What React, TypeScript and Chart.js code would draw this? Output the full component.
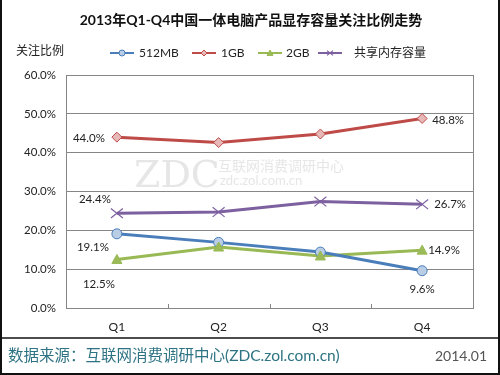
import React, { useEffect, useRef } from "react";
import { Chart, registerables } from "chart.js";

Chart.register(...registerables);

const categories = ["Q1", "Q2", "Q3", "Q4"];
const seriesNames = ["512MB", "1GB", "2GB", "共享内存容量"];
const values512 = [19.1, 16.9, 14.4, 9.6];
const values1G = [44.0, 42.6, 44.8, 48.8];
const values2G = [12.5, 15.7, 13.4, 14.9];
const valuesShared = [24.4, 24.7, 27.4, 26.7];
const yTicks = [0, 10, 20, 30, 40, 50, 60];

const titleText = "2013年Q1-Q4中国一体电脑产品显存容量关注比例走势";
const yAxisTitle = "关注比例";
const sourceText = "数据来源：互联网消费调研中心(ZDC.zol.com.cn)";
const dateText = "2014.01";

const FONT = "'Lato', 'Noto Sans CJK SC', sans-serif";

const lineColors = ["#4A7EBB", "#BE4B48", "#98B954", "#7D60A0"];
const markerFills = ["#B9CDE5", "#E6B9B8", "#9BBB59", "#7D60A0"];
const markerStyles = ["circle", "rectRot", "triangle", "cross"];
const markerRadii = [5, 5, 5, 6];

// label placement per series: [pointIndex, dx, dy, align]
const labelPlacements: [number, number, number, CanvasTextAlign][][] = [
  [[0, -8, 13, "right"], [3, 0, 19, "center"]],
  [[0, -12, 1, "right"], [3, 10, 2, "left"]],
  [[0, -2, 25, "right"], [3, 6, 0, "left"]],
  [[0, -6, -14, "right"], [3, 12, 0, "left"]],
];

function drawMarker(ctx: CanvasRenderingContext2D, i: number, x: number, y: number, r: number) {
  ctx.save();
  ctx.strokeStyle = lineColors[i];
  ctx.fillStyle = markerFills[i];
  ctx.lineWidth = 1;
  ctx.beginPath();
  const s = markerStyles[i];
  if (s === "circle") {
    ctx.arc(x, y, r, 0, Math.PI * 2);
    ctx.fill();
    ctx.stroke();
  } else if (s === "rectRot") {
    ctx.moveTo(x, y - r);
    ctx.lineTo(x + r, y);
    ctx.lineTo(x, y + r);
    ctx.lineTo(x - r, y);
    ctx.closePath();
    ctx.fill();
    ctx.stroke();
  } else if (s === "triangle") {
    ctx.moveTo(x, y - r);
    ctx.lineTo(x + r, y + r * 0.8);
    ctx.lineTo(x - r, y + r * 0.8);
    ctx.closePath();
    ctx.fill();
    ctx.stroke();
  } else {
    ctx.lineWidth = 1.2;
    ctx.moveTo(x - r, y - r * 0.8);
    ctx.lineTo(x + r, y + r * 0.8);
    ctx.moveTo(x + r, y - r * 0.8);
    ctx.lineTo(x - r, y + r * 0.8);
    ctx.stroke();
  }
  ctx.restore();
}

const decorPlugin = {
  id: "decor",
  beforeDatasetsDraw(chart: any) {
    const { ctx, chartArea } = chart;
    const { left, right, top, bottom } = chartArea;
    ctx.save();
    // plot border
    ctx.strokeStyle = "#868686";
    ctx.lineWidth = 1;
    ctx.strokeRect(left + 0.5, top + 0.5, right - left, bottom - top);
    // inner ticks at category boundaries
    const xs = chart.scales.x;
    for (let k = 1; k < categories.length; k++) {
      const px = Math.round((xs.getPixelForValue(k - 1) + xs.getPixelForValue(k)) / 2) + 0.5;
      ctx.beginPath();
      ctx.moveTo(px, bottom);
      ctx.lineTo(px, bottom - 4);
      ctx.stroke();
    }
    // watermark
    ctx.fillStyle = "rgba(205,205,205,0.5)";
    ctx.font = "38px 'DejaVu Serif', serif";
    ctx.textAlign = "left";
    ctx.textBaseline = "alphabetic";
    ctx.fillText("ZDC", 134, 187);
    ctx.font = "14px 'Noto Sans CJK SC', sans-serif";
    ctx.fillText("互联网消费调研中心", 218, 171);
    ctx.font = "13px 'Lato', sans-serif";
    ctx.fillText("zdc.zol.com.cn", 220, 185);
    ctx.restore();
  },
  afterDatasetsDraw(chart: any) {
    const { ctx } = chart;
    ctx.save();
    // markers
    chart.data.datasets.forEach((ds: any, i: number) => {
      const meta = chart.getDatasetMeta(i);
      meta.data.forEach((pt: any) => drawMarker(ctx, i, pt.x, pt.y, markerRadii[i]));
    });
    // data labels
    ctx.fillStyle = "#222";
    ctx.font = "11.5px " + FONT;
    ctx.textBaseline = "middle";
    chart.data.datasets.forEach((ds: any, i: number) => {
      const meta = chart.getDatasetMeta(i);
      labelPlacements[i].forEach(([idx, dx, dy, align]) => {
        const pt = meta.data[idx];
        ctx.textAlign = align;
        ctx.fillText(ds.data[idx].toFixed(1) + "%", pt.x + dx, pt.y + dy);
      });
    });

    // title
    ctx.fillStyle = "#111";
    ctx.textAlign = "center";
    ctx.font = "bold 14px " + FONT;
    ctx.fillText(titleText, 251, 20);
    // y-axis title
    ctx.font = "12px " + FONT;
    ctx.textAlign = "left";
    ctx.fillStyle = "#222";
    ctx.fillText(yAxisTitle, 16, 51);
    // legend
    const legendItems = [
      [110, 139],
      [192, 221],
      [258, 286],
      [318, 354],
    ];
    const ly = 53;
    seriesNames.forEach((name, i) => {
      const [lx, tx] = legendItems[i];
      ctx.strokeStyle = lineColors[i];
      ctx.lineWidth = 2;
      ctx.beginPath();
      ctx.moveTo(lx, ly);
      ctx.lineTo(lx + 24, ly);
      ctx.stroke();
      drawMarker(ctx, i, lx + 12, ly, 3);
      ctx.fillStyle = "#222";
      ctx.font = "12px " + FONT;
      ctx.textAlign = "left";
      ctx.fillText(name, tx, ly);
    });
    // footer
    ctx.strokeStyle = "#111";
    ctx.lineWidth = 1.5;
    ctx.beginPath();
    ctx.moveTo(0, 338);
    ctx.lineTo(500, 338);
    ctx.stroke();
    ctx.fillStyle = "#2E7383";
    ctx.font = "15.5px " + FONT;
    ctx.textAlign = "left";
    ctx.fillText(sourceText, 8, 356);
    ctx.fillStyle = "#555";
    ctx.font = "14px " + FONT;
    ctx.textAlign = "right";
    ctx.fillText(dateText, 487, 356);
    ctx.restore();
  },
};

export default function App() {
  const ref = useRef<HTMLCanvasElement | null>(null);
  useEffect(() => {
    if (!ref.current) return;
    const data = [values512, values1G, values2G, valuesShared];
    const chart = new Chart(ref.current, {
      type: "line",
      data: {
        labels: categories,
        datasets: data.map((vals, i) => ({
          label: seriesNames[i],
          data: vals,
          borderColor: lineColors[i],
          backgroundColor: markerFills[i],
          borderWidth: 3,
          pointRadius: 0,
          tension: 0,
        })),
      },
      options: {
        animation: false,
        responsive: false,
        maintainAspectRatio: false,
        layout: { padding: { left: 0, right: 27, top: 75, bottom: 0 } },
        plugins: {
          legend: { display: false },
          title: { display: false },
          tooltip: { enabled: false },
        },
        scales: {
          x: {
            offset: true,
            grid: { display: false, drawTicks: false },
            border: { display: false },
            ticks: {
              color: "#222",
              font: { family: FONT, size: 12 },
              padding: 12,
            },
            afterFit: (s: any) => {
              s.height = 67;
            },
          },
          y: {
            min: 0,
            max: 60,
            afterBuildTicks: (s: any) => {
              s.ticks = yTicks.map((v) => ({ value: v }));
            },
            grid: { color: "#868686", lineWidth: 1, drawTicks: false },
            border: { display: false },
            ticks: {
              color: "#222",
              font: { family: FONT, size: 11.5 },
              padding: 10,
              callback: (v: any) => Number(v).toFixed(1) + "%",
            },
            afterFit: (s: any) => {
              s.width = 66;
            },
          },
        },
      },
      plugins: [decorPlugin],
    });
    return () => chart.destroy();
  }, []);
  return (
    <div
      style={{
        position: "fixed",
        left: 0,
        top: 0,
        width: 500,
        height: 375,
        background: "#fff",
        boxSizing: "border-box",
        overflow: "hidden",
      }}
    >
      <canvas ref={ref} width={500} height={375} style={{ display: "block" }} />
      <div
        style={{
          position: "absolute",
          left: 0,
          top: 0,
          width: 500,
          height: 375,
          boxSizing: "border-box",
          borderLeft: "2px solid #111",
          borderRight: "2px solid #111",
          borderBottom: "2px solid #111",
          pointerEvents: "none",
        }}
      />
    </div>
  );
}
